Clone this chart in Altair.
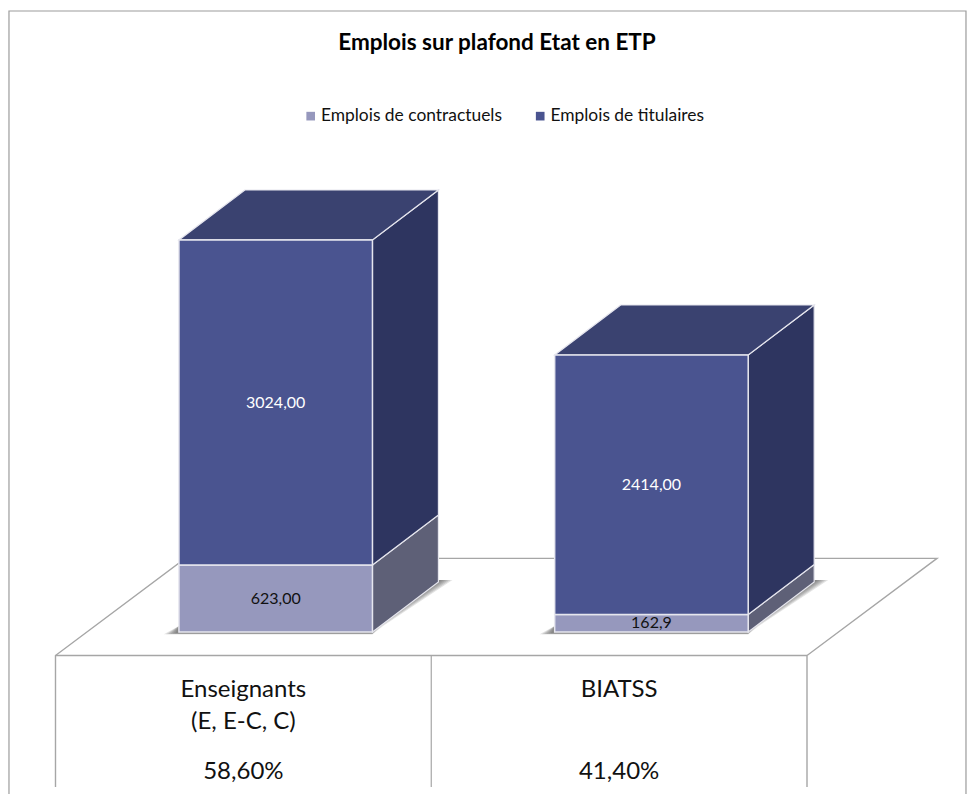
import altair as alt
import pandas as pd

TITLE = "Emplois sur plafond Etat en ETP"
CATEGORIES = ["Enseignants", "BIATSS"]
CAT_LINES = [["Enseignants", "(E, E-C, C)"], ["BIATSS", ""]]
SHARES = ["58,60%", "41,40%"]
SERIES = ["Emplois de contractuels", "Emplois de titulaires"]
CONTRACTUELS = [623.0, 162.9]
TITULAIRES = [3024.0, 2414.0]
LABELS_C = ["623,00", "162,9"]
LABELS_T = ["3024,00", "2414,00"]

FONT = "Lato"
FRONT = {"c": "#9698BD", "t": "#4A5490"}
SIDE = {"c": "#5E6077", "t": "#2E3560"}
TOP = "#3A4270"
EDGE = "#E6E6EE"
GREY = "#A6A6A6"

W, H = 959, 786
XDOM = [-0.1264, 2.4258]
YDOM = [-1507, 5805]
BAR_LEFT, BAR_W = 0.3285, 0.515
DX, DY = 0.1756, 465
FLOOR_FRONT, FLOOR_BACK, FLOOR_SHIFT, FLOOR_RIGHT = -219, 685, 0.345, 2.346
TABLE_BOTTOM = -1442
BORDER = [-0.1238, 2.4231, 5777]

X = lambda f: alt.X(f, type="quantitative", scale=alt.Scale(domain=XDOM), axis=None, title=None)
Y = lambda f: alt.Y(f, type="quantitative", scale=alt.Scale(domain=YDOM), axis=None, title=None, stack=False)


def polyline(points, color, width):
    df = pd.DataFrame([{"x": a, "y": b, "o": i} for i, (a, b) in enumerate(points)])
    return alt.Chart(df).mark_line(color=color, strokeWidth=width, interpolate="linear").encode(
        x=X("x"), y=Y("y"), order="o:Q"
    )


layers = []
# outer frame
layers.append(polyline([(BORDER[0], YDOM[0]), (BORDER[0], BORDER[2]), (BORDER[1], BORDER[2]), (BORDER[1], YDOM[0])], "#9C9C9C", 1.2))
# floor and table
layers.append(polyline([(0, TABLE_BOTTOM), (0, FLOOR_FRONT), (FLOOR_SHIFT, FLOOR_BACK), (FLOOR_RIGHT, FLOOR_BACK), (2, FLOOR_FRONT), (2, TABLE_BOTTOM)], GREY, 1.4))
layers.append(polyline([(0, FLOOR_FRONT), (2, FLOOR_FRONT)], GREY, 1.6))
layers.append(polyline([(1, FLOOR_FRONT), (1, TABLE_BOTTOM)], GREY, 1.2))

front_rows = []
for i, cat in enumerate(CATEGORIES):
    left = i + BAR_LEFT
    right = left + BAR_W
    # soft shadow on the floor
    for f in (1.0, 0.85, 0.7, 0.55, 0.4, 0.25):
        sh = pd.DataFrame({
            "y": [484, 56, -8 - 14 * f],
            "xl": [right + 0.1, left, left - 0.04 * f],
            "xr": [right + DX + (0.213 - DX) * f, right + 0.028 * f, right],
        })
        layers.append(alt.Chart(sh).mark_area(orient="horizontal", color="#444444", opacity=0.15).encode(
            y=Y("y"), x=X("xl"), x2="xr"))
    base = 0.0
    segs = [("c", CONTRACTUELS[i], SERIES[0]), ("t", TITULAIRES[i], SERIES[1])]
    for key, val, name in segs:
        top = base + val
        side = pd.DataFrame({"x": [right, right + DX], "y": [base, base + DY], "y2": [top, top + DY]})
        layers.append(alt.Chart(side).mark_area(orient="vertical", color=SIDE[key], stroke=EDGE, strokeWidth=1.2).encode(
            x=X("x"), y=Y("y"), y2="y2"))
        front_rows.append({"x": left, "x2": right, "y": base, "y2": top, "s": name})
        base = top
    cap = pd.DataFrame({"y": [base, base + DY], "x": [left, left + DX], "x2": [right, right + DX]})
    layers.append(alt.Chart(cap).mark_area(orient="horizontal", color=TOP, stroke=EDGE, strokeWidth=1.2).encode(
        y=Y("y"), x=X("x"), x2="x2"))

front = alt.Chart(pd.DataFrame(front_rows)).mark_rect(stroke=EDGE, strokeWidth=1.5).encode(
    x=X("x"), x2="x2", y=Y("y"), y2="y2",
    color=alt.Color("s:N", scale=alt.Scale(domain=SERIES, range=[FRONT["c"], FRONT["t"]]),
                    legend=alt.Legend(title=None, orient="none", legendX=294, legendY=99, direction="horizontal",
                                      columns=2, columnPadding=29.5, symbolType="square", symbolSize=75,
                                      symbolStrokeWidth=0, labelFont=FONT, labelFontSize=17.4, labelColor="#111111",
                                      labelOffset=1.5, labelLimit=300)),
)
layers.append(front)

# value labels
val_rows = []
for i in range(2):
    cx = i + BAR_LEFT + BAR_W / 2
    val_rows.append({"x": cx, "y": CONTRACTUELS[i] / 2, "t": LABELS_C[i], "c": "#111111"})
    val_rows.append({"x": cx, "y": CONTRACTUELS[i] + TITULAIRES[i] / 2, "t": LABELS_T[i], "c": "#FFFFFF"})
layers.append(alt.Chart(pd.DataFrame(val_rows)).mark_text(font=FONT, fontSize=16, baseline="middle", align="center").encode(
    x=X("x"), y=Y("y"), text="t:N", color=alt.Color("c:N", scale=None, legend=None)))

# category table text
LINE_Y = [-538, -836]
SHARE_Y = -1300
tab_rows = []
for i in range(2):
    for ln, ypos in zip(CAT_LINES[i], LINE_Y):
        if ln:
            tab_rows.append({"x": i + 0.5, "y": ypos, "t": ln})
    tab_rows.append({"x": i + 0.5, "y": SHARE_Y, "t": SHARES[i]})
layers.append(alt.Chart(pd.DataFrame(tab_rows)).mark_text(font=FONT, fontSize=24, baseline="middle", align="center", color="#111111").encode(
    x=X("x"), y=Y("y"), text="t:N"))

chart = alt.layer(*layers).properties(
    width=W, height=H, padding=0,
    autosize=alt.AutoSizeParams(type="none"),
    title=alt.TitleParams(text=TITLE, anchor="middle", font=FONT, fontSize=22.5, fontWeight="bold", color="#000000", dx=9.5, dy=50),
).configure_view(strokeWidth=0)

chart.save("out.html", embed_options={"renderer": "svg", "actions": False})
